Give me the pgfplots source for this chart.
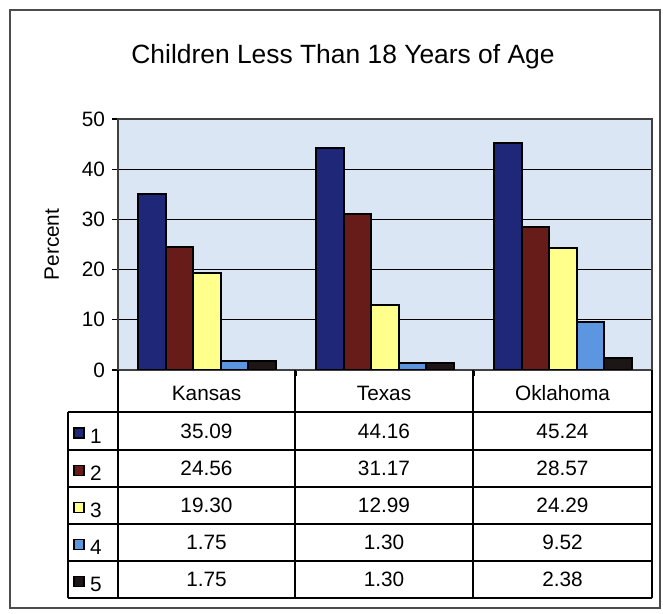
\documentclass[border=0pt]{standalone}
\usepackage{fontspec}
\setmainfont{Liberation Sans}
\usepackage{pgfplots}
\pgfplotsset{compat=1.18}
\definecolor{bgblue}{RGB}{218,230,244}
\definecolor{sA}{RGB}{31,40,120}
\definecolor{sB}{RGB}{104,28,26}
\definecolor{sC}{RGB}{255,255,140}
\definecolor{sD}{RGB}{92,150,225}
\definecolor{sE}{RGB}{28,22,22}
\newcommand\tf{\fontsize{10.4}{12}\selectfont}
\begin{document}
\begin{tikzpicture}
\begin{axis}[
  at={(59pt,122pt)}, anchor=south west,
  scale only axis, width=267pt, height=125.5pt,
  xmin=-0.5, xmax=2.5, ymin=0, ymax=50,
  ytick={0,10,...,50},
  xtick={-0.5,0.5,1.5,2.5}, xticklabels={},
  tick pos=left, tick align=outside, major tick length=3pt,
  tick style={black, line width=0.6pt},
  ymajorgrids, grid style={black, line width=0.6pt},
  axis background/.style={fill=bgblue},
  axis line style={black!75, line width=0.6pt},
  ybar=0pt, bar width=13.75pt,
  every axis plot/.append style={draw=black, line width=1pt},
  yticklabel style={font=\tf},
  /pgf/number format/assume math mode=true,
  ylabel=Percent,
  ylabel style={font=\tf, at={(axis description cs:-0.124,0.5)}, anchor=center},
]
\addplot[fill=sA] coordinates {(0,35.09) (1,44.16) (2,45.24)};
\addplot[fill=sB] coordinates {(0,24.56) (1,31.17) (2,28.57)};
\addplot[fill=sC] coordinates {(0,19.30) (1,12.99) (2,24.29)};
\addplot[fill=sD] coordinates {(0,1.75) (1,1.30) (2,9.52)};
\addplot[fill=sE] coordinates {(0,1.75) (1,1.30) (2,2.38)};
\end{axis}
\begin{scope}[x=0.5pt,y=0.5pt]
\path[use as bounding box] (0,0) rectangle (663,614);
\draw[black!70, line width=0.6pt] (10,6) rectangle (660,604);
\node[font=\fontsize{13.2}{15}\selectfont] at (343,557) {Children Less Than 18 Years of Age};
% data table
\draw[black, line width=0.6pt]
  (118,244) -- (118,16) (295,244) -- (295,16) (473,244) -- (473,16) (652,244) -- (652,16)
  (68,202) -- (68,16);
\foreach \yy in {202,164,127,90,53,16} \draw[black, line width=0.6pt] (68,\yy) -- (652,\yy);
\node[font=\tf] at (206.5,221) {Kansas};
\node[font=\tf] at (384,221) {Texas};
\node[font=\tf] at (562.5,221) {Oklahoma};
\foreach \yy/\cc/\nn/\a/\b/\c in {
  183/sA/1/35.09/44.16/45.24,
  145.5/sB/2/24.56/31.17/28.57,
  108.5/sC/3/19.30/12.99/24.29,
  71.5/sD/4/1.75/1.30/9.52,
  34.5/sE/5/1.75/1.30/2.38}{
  \draw[fill=\cc, draw=black, line width=0.8pt] (74,\yy-7) rectangle (84,\yy+3);
  \node[font=\tf] at (96,\yy-5) {\nn};
  \node[font=\tf] at (206.5,\yy) {\a};
  \node[font=\tf] at (384,\yy) {\b};
  \node[font=\tf] at (562.5,\yy) {\c};
}
\end{scope}
\end{tikzpicture}
\end{document}
